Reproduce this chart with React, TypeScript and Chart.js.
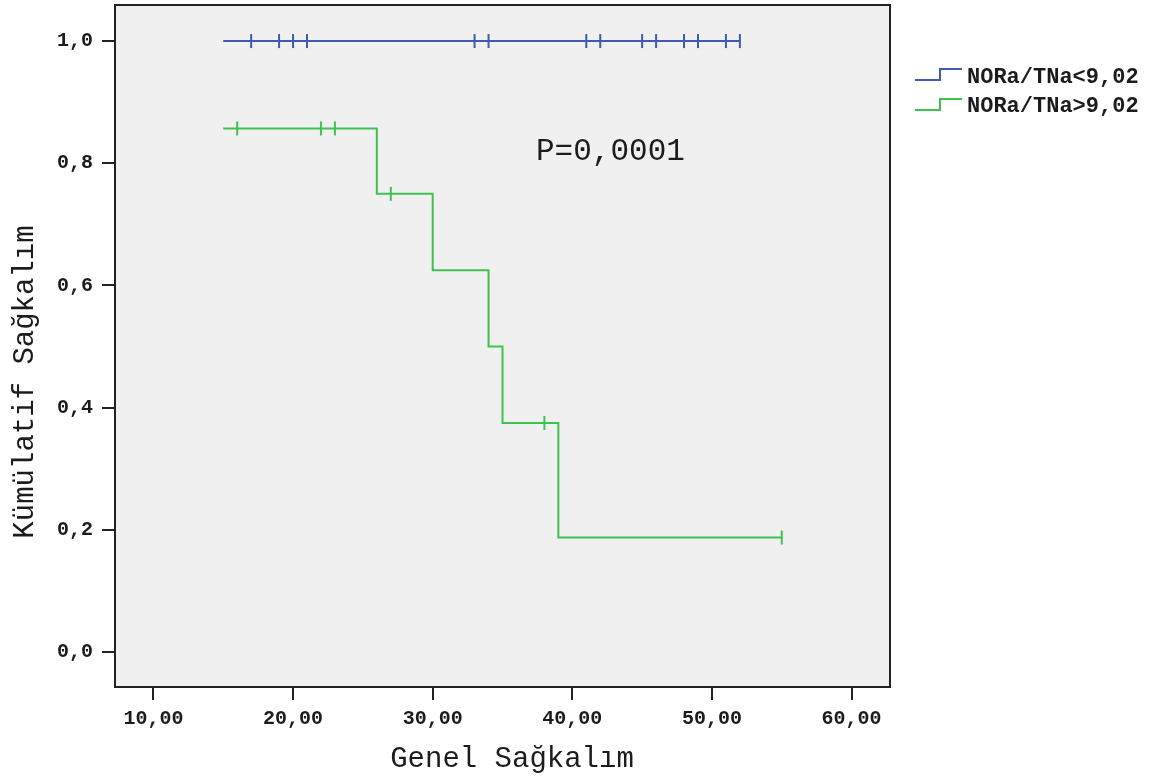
import { useEffect, useRef } from 'react';
import { Chart, registerables } from 'chart.js';

Chart.register(...registerables);

// ---- data ----
const seriesLabels = ['NORa/TNa<9,02', 'NORa/TNa>9,02'];
const seriesColors = ['#3f5aae', '#3fc14f'];

const blueStepTimes = [15, 52];
const blueStepSurvival = [1, 1];
const blueCensorTimes = [17, 19, 20, 21, 33, 34, 41, 42, 45, 46, 48, 49, 51, 52];
const blueCensorSurvival = [1, 1, 1, 1, 1, 1, 1, 1, 1, 1, 1, 1, 1, 1];

const greenStepTimes = [15, 26, 30, 34, 35, 39, 55];
const greenStepSurvival = [0.857, 0.75, 0.625, 0.5, 0.375, 0.1875, 0.1875];
const greenCensorTimes = [16, 22, 23, 27, 38, 55];
const greenCensorSurvival = [0.857, 0.857, 0.857, 0.75, 0.375, 0.1875];

const xTickValues = [10, 20, 30, 40, 50, 60];
const yTickValues = [0, 0.2, 0.4, 0.6, 0.8, 1.0];

const xAxisTitle = 'Genel Sağkalım';
const yAxisTitle = 'Kümülatif Sağkalım';
const pValueLabel = 'P=0,0001';
const pValueAt = { x: 37.4, y: 0.806 };

const MONO = "'Liberation Mono', 'DejaVu Sans Mono', monospace";
const TEXT = '#1c1c1c';

const toPoints = (xs: number[], ys: number[]) => xs.map((x, i) => ({ x, y: ys[i] }));

const decorPlugin = {
  id: 'kmDecor',
  beforeDraw(chart: any) {
    const { ctx, chartArea: a } = chart;
    ctx.save();
    ctx.fillStyle = '#f0f0f0';
    ctx.fillRect(a.left, a.top, a.right - a.left, a.bottom - a.top);
    ctx.restore();
  },
  afterDraw(chart: any) {
    const { ctx, chartArea: a, scales } = chart;
    ctx.save();
    // frame
    ctx.strokeStyle = '#222';
    ctx.lineWidth = 2;
    ctx.strokeRect(a.left, a.top, a.right - a.left, a.bottom - a.top);

    // axis titles
    ctx.fillStyle = TEXT;
    ctx.font = `29px ${MONO}`;
    ctx.textAlign = 'center';
    ctx.textBaseline = 'alphabetic';
    ctx.fillText(xAxisTitle, 512, 767);
    ctx.save();
    ctx.translate(33, 382);
    ctx.rotate(-Math.PI / 2);
    ctx.fillText(yAxisTitle, 0, 0);
    ctx.restore();

    // p-value
    ctx.font = `31px ${MONO}`;
    ctx.textAlign = 'left';
    ctx.fillText(pValueLabel, scales.x.getPixelForValue(pValueAt.x), scales.y.getPixelForValue(pValueAt.y));

    // legend
    seriesLabels.forEach((label, i) => {
      const y0 = 80 + 30 * i;
      ctx.strokeStyle = seriesColors[i];
      ctx.lineWidth = 2;
      ctx.beginPath();
      ctx.moveTo(915, y0);
      ctx.lineTo(940, y0);
      ctx.lineTo(940, y0 - 11);
      ctx.lineTo(962, y0 - 11);
      ctx.stroke();
      ctx.fillStyle = TEXT;
      ctx.font = `bold 22px ${MONO}`;
      ctx.fillText(label, 967, 83 + 29 * i);
    });
    ctx.restore();
  },
};

export default function App() {
  const ref = useRef<HTMLCanvasElement | null>(null);

  useEffect(() => {
    if (!ref.current) return;
    const lineDs = (pts: any[], color: string) => ({
      data: pts,
      showLine: true,
      stepped: 'before' as const,
      borderColor: color,
      backgroundColor: color,
      borderWidth: 2,
      pointRadius: 0,
      fill: false,
    });
    const censorDs = (pts: any[], color: string) => ({
      data: pts,
      showLine: false,
      pointStyle: 'line' as const,
      rotation: 90,
      pointRadius: 7,
      pointHoverRadius: 7,
      borderColor: color,
      backgroundColor: color,
      pointBorderWidth: 2,
      borderWidth: 2,
    });

    const chart = new Chart(ref.current, {
      type: 'scatter',
      data: {
        datasets: [
          lineDs(toPoints(blueStepTimes, blueStepSurvival), seriesColors[0]),
          censorDs(toPoints(blueCensorTimes, blueCensorSurvival), seriesColors[0]),
          lineDs(toPoints(greenStepTimes, greenStepSurvival), seriesColors[1]),
          censorDs(toPoints(greenCensorTimes, greenCensorSurvival), seriesColors[1]),
        ] as any,
      },
      options: {
        animation: false,
        responsive: false,
        devicePixelRatio: 1,
        layout: { autoPadding: false, padding: { left: 0, top: 5, right: 266, bottom: 0 } },
        plugins: { legend: { display: false }, tooltip: { enabled: false } },
        scales: {
          x: {
            type: 'linear',
            min: 7.25,
            max: 62.75,
            afterBuildTicks: (s: any) => {
              s.ticks = xTickValues.map((v) => ({ value: v }));
            },
            afterFit: (s: any) => {
              s.height = 92;
              s.paddingLeft = 0;
              s.paddingRight = 0;
              s.paddingTop = 0;
              s.paddingBottom = 0;
            },
            grid: { drawOnChartArea: false, drawTicks: true, tickLength: 13, color: '#222', lineWidth: 2 },
            border: { display: false },
            ticks: {
              autoSkip: false,
              maxRotation: 0,
              padding: 7,
              color: TEXT,
              font: { family: MONO, size: 20, weight: 'bold' },
              callback: (v: any) => Number(v).toFixed(2).replace('.', ','),
            },
          },
          y: {
            type: 'linear',
            min: -0.057,
            max: 1.059,
            afterBuildTicks: (s: any) => {
              s.ticks = yTickValues.map((v) => ({ value: v }));
            },
            afterFit: (s: any) => {
              s.width = 115;
              s.paddingLeft = 0;
              s.paddingRight = 0;
              s.paddingTop = 0;
              s.paddingBottom = 0;
            },
            grid: { drawOnChartArea: false, drawTicks: true, tickLength: 13, color: '#222', lineWidth: 2 },
            border: { display: false },
            ticks: {
              autoSkip: false,
              padding: 9,
              color: TEXT,
              font: { family: MONO, size: 20, weight: 'bold' },
              callback: (v: any) => Number(v).toFixed(1).replace('.', ','),
            },
          },
        },
      },
      plugins: [decorPlugin],
    });
    return () => chart.destroy();
  }, []);

  return (
    <div style={{ position: 'fixed', left: 0, top: 0, width: 1156, height: 779, background: '#fff' }}>
      <canvas ref={ref} width={1156} height={779} style={{ display: 'block', width: 1156, height: 779 }} />
    </div>
  );
}
